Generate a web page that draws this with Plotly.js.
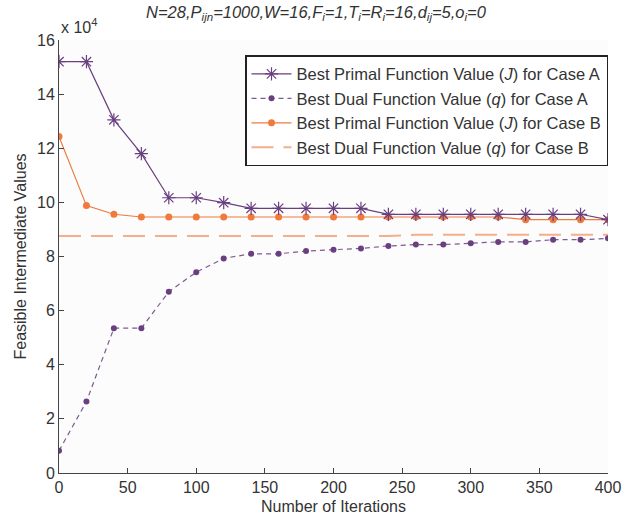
<!DOCTYPE html>
<html><head><meta charset="utf-8">
<script src="https://cdn.plot.ly/plotly-3.0.1.min.js"></script>
<style>body{margin:0;background:#fff}#c{width:632px;height:518px}</style>
</head><body><div id="c"></div>
<script>
var iterations = [0,20,40,60,80,100,120,140,160,180,200,220,240,260,280,300,320,340,360,380,400];
var primalA = [15.2,15.2,13.05,11.8,10.17,10.17,9.99,9.78,9.78,9.78,9.78,9.78,9.56,9.56,9.56,9.56,9.56,9.56,9.56,9.56,9.36];
var dualA = [0.82,2.64,5.35,5.35,6.70,7.42,7.93,8.10,8.10,8.20,8.25,8.30,8.39,8.44,8.44,8.49,8.54,8.54,8.62,8.62,8.67];
var primalB = [12.43,9.88,9.56,9.46,9.46,9.46,9.46,9.46,9.46,9.46,9.46,9.46,9.46,9.46,9.46,9.46,9.46,9.36,9.36,9.36,9.36];
var dualB = [8.76,8.76,8.76,8.76,8.76,8.76,8.76,8.76,8.76,8.76,8.76,8.76,8.76,8.8,8.8,8.8,8.8,8.8,8.8,8.8,8.8];
var names = ['Best Primal Function Value (<i>J</i>) for Case A','Best Dual Function Value (<i>q</i>) for Case A','Best Primal Function Value (<i>J</i>) for Case B','Best Dual Function Value (<i>q</i>) for Case B'];

var purple = '#6a3f80', orange = '#ef7a3c';
var traces = [
 {x: iterations, y: dualB, name: names[3], mode: 'lines', line: {color: '#f5ae8a', width: 2, dash: '22px,10px'}},
 {x: iterations, y: primalB, name: names[2], mode: 'lines+markers', line: {color: orange, width: 1.2}, marker: {color: orange, size: 7, symbol: 'circle'}},
 {x: iterations, y: dualA, name: names[1], mode: 'lines+markers', line: {color: '#7d5a92', width: 1.2, dash: '5px,4px'}, marker: {color: purple, size: 6, symbol: 'circle'}},
 {x: iterations, y: primalA, name: names[0], mode: 'lines+markers', line: {color: purple, width: 1.2}, marker: {color: purple, size: 11, symbol: 'asterisk-open', line: {color: purple, width: 1.2}}}
];
var layout = {
 width: 632, height: 518,
 margin: {l: 59, r: 24, t: 40, b: 45},
 paper_bgcolor: '#ffffff', plot_bgcolor: '#fcfcfc',
 font: {family: 'Liberation Sans, Arial, sans-serif', size: 16, color: '#333'},
 showlegend: true,
 legend: {x: 1, xanchor: 'right', y: 0.965, yanchor: 'top', bgcolor: '#ffffff', bordercolor: '#222', borderwidth: 1.5, traceorder: 'reversed', font: {size: 16.5, color: '#333'}, tracegroupgap: 0, itemwidth: 40},
 title: {text: '<i>N=28,P<sub>ijn</sub>=1000,W=16,F<sub>i</sub>=1,T<sub>i</sub>=R<sub>i</sub>=16,d<sub>ij</sub>=5,o<sub>i</sub>=0</i>', x: 0.5, xanchor: 'center', y: 0.988, yanchor: 'top', font: {size: 16.5, color: '#333'}},
 xaxis: {range: [0, 400], tickvals: [0,50,100,150,200,250,300,350,400], ticks: 'inside', ticklen: 5, tickcolor: '#444', showline: true, linecolor: '#444', linewidth: 1, showgrid: false, zeroline: false, mirror: false,
   title: {text: 'Number of Iterations', font: {size: 16, color: '#333'}, standoff: 5}, tickfont: {size: 16, color: '#333'}},
 yaxis: {range: [0, 16], tickvals: [0,2,4,6,8,10,12,14,16], ticks: 'inside', ticklen: 5, tickcolor: '#444', showline: true, linecolor: '#444', linewidth: 1, showgrid: false, zeroline: false,
   title: {text: 'Feasible Intermediate Values', font: {size: 16, color: '#333'}, standoff: 6}, tickfont: {size: 16, color: '#333'}},
 annotations: [{text: 'x 10<sup>4</sup>', xref: 'paper', yref: 'paper', x: 0, y: 1, xanchor: 'left', yanchor: 'bottom', showarrow: false, font: {size: 16, color: '#333'}, yshift: 2}]
};
Plotly.newPlot('c', traces, layout, {displayModeBar: false});
</script></body></html>
